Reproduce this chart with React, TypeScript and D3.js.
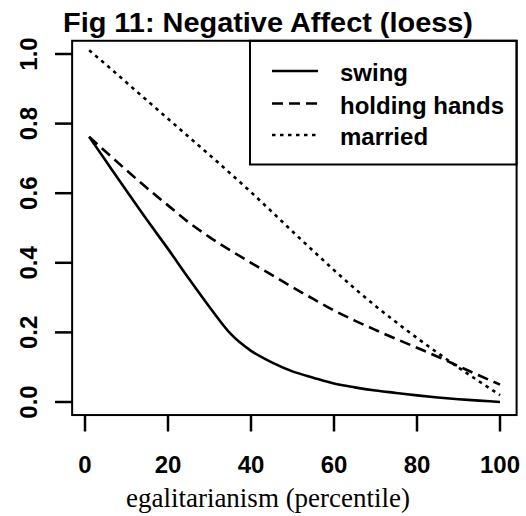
import React from "react";
import * as d3 from "d3";

const pct = [1, 5, 10, 15, 20, 25, 30, 35, 40, 45, 50, 55, 60, 65, 70, 75, 80, 85, 90, 95, 100];
const swing = [0.762, 0.693, 0.607, 0.522, 0.44, 0.355, 0.273, 0.197, 0.147, 0.114, 0.088, 0.07, 0.053, 0.042, 0.033, 0.026, 0.019, 0.013, 0.008, 0.004, 0.0];
const holdingHands = [0.762, 0.719, 0.666, 0.614, 0.565, 0.516, 0.474, 0.436, 0.4, 0.365, 0.33, 0.296, 0.263, 0.234, 0.207, 0.181, 0.156, 0.13, 0.103, 0.076, 0.05];
const married = [1.011, 0.97, 0.918, 0.866, 0.814, 0.762, 0.71, 0.657, 0.603, 0.547, 0.49, 0.434, 0.379, 0.326, 0.276, 0.229, 0.184, 0.141, 0.099, 0.059, 0.02];

const seriesNames = ["swing", "holding hands", "married"];
const seriesData = [swing, holdingHands, married];
const dashes = ["none", "11,6", "3.5,4.5"];

const xTicks = [0, 20, 40, 60, 80, 100];
const yTicks = [0, 0.2, 0.4, 0.6, 0.8, 1.0];

const title = "Fig 11: Negative Affect (loess)";
const xTitle = "egalitarianism (percentile)";

export default function App() {
  const W = 526, H = 516;
  const x = d3.scaleLinear().domain([0, 100]).range([85, 500]);
  const y = d3.scaleLinear().domain([0, 1]).range([402, 54]);
  const boxX0 = x(-3.1), boxX1 = x(104);
  const boxY0 = y(1.038), boxY1 = y(-0.0375);

  const line = d3
    .line<number>()
    .x((_, i) => x(pct[i]))
    .y((d) => y(d))
    .curve(d3.curveMonotoneX);

  const sans = "'Liberation Sans', Arial, Helvetica, sans-serif";
  const serif = "'Liberation Serif', 'Times New Roman', serif";

  const legX0 = 250, legY1 = 164.5;
  const legRows = [71, 103.5, 135];

  return (
    <svg
      width={W}
      height={H}
      style={{ position: "absolute", left: 0, top: 0, background: "#fff" }}
    >
      <rect x={0} y={0} width={W} height={H} fill="#fff" />
      <text
        x={268}
        y={32}
        textAnchor="middle"
        fontFamily={sans}
        fontWeight="bold"
        fontSize={28}
        fill="#000"
        textLength={410}
        lengthAdjust="spacingAndGlyphs"
      >
        {title}
      </text>

      {seriesData.map((s, i) => (
        <path
          key={i}
          d={line(s) || ""}
          fill="none"
          stroke="#000"
          strokeWidth={2.6}
          strokeDasharray={dashes[i]}
        />
      ))}

      {/* legend */}
      <rect
        x={legX0}
        y={boxY0}
        width={boxX1 - legX0}
        height={legY1 - boxY0}
        fill="#fff"
        stroke="#000"
        strokeWidth={2}
      />
      {seriesNames.map((n, i) => (
        <g key={n}>
          <line
            x1={272}
            x2={318}
            y1={legRows[i]}
            y2={legRows[i]}
            stroke="#000"
            strokeWidth={2.6}
            strokeDasharray={dashes[i]}
          />
          <text
            x={340}
            y={legRows[i] + 10}
            fontFamily={sans}
            fontWeight="bold"
            fontSize={24}
            fill="#000"
          >
            {n}
          </text>
        </g>
      ))}

      {/* plot box */}
      <rect
        x={boxX0}
        y={boxY0}
        width={boxX1 - boxX0}
        height={boxY1 - boxY0}
        fill="none"
        stroke="#000"
        strokeWidth={2}
      />

      {/* y axis */}
      {yTicks.map((t) => (
        <g key={t}>
          <line x1={55} x2={boxX0} y1={y(t)} y2={y(t)} stroke="#000" strokeWidth={2.5} />
          <text
            transform={`translate(37,${y(t)}) rotate(-90)`}
            textAnchor="middle"
            fontFamily={sans}
            fontWeight="bold"
            fontSize={24}
            fill="#000"
          >
            {t.toFixed(1)}
          </text>
        </g>
      ))}

      {/* x axis */}
      {xTicks.map((t) => (
        <g key={t}>
          <line x1={x(t)} x2={x(t)} y1={boxY1} y2={431.5} stroke="#000" strokeWidth={2.5} />
          <text
            x={x(t)}
            y={473}
            textAnchor="middle"
            fontFamily={sans}
            fontWeight="bold"
            fontSize={24}
            fill="#000"
          >
            {t}
          </text>
        </g>
      ))}

      <text
        x={268}
        y={507}
        textAnchor="middle"
        fontFamily={serif}
        fontSize={27}
        fill="#000"
      >
        {xTitle}
      </text>
    </svg>
  );
}
